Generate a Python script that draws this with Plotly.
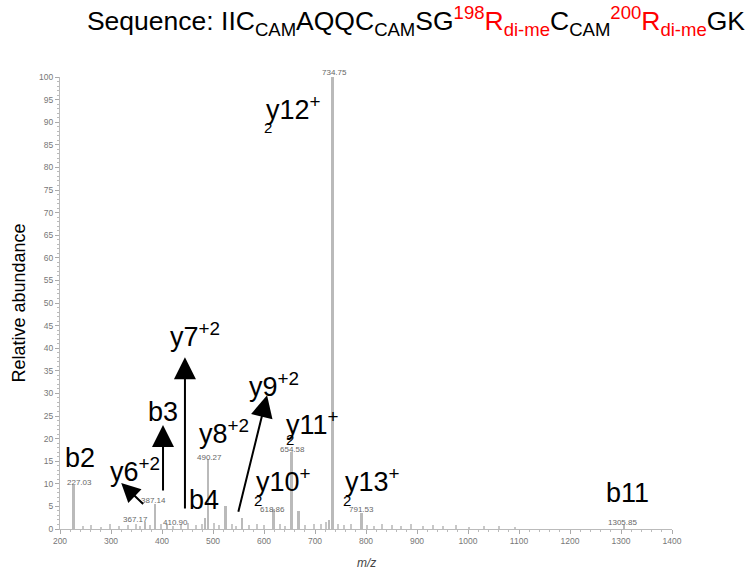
import plotly.graph_objects as go

# ---------------- data ----------------
peak_mz = [227.03, 367.17, 387.14, 410.90, 485.0, 490.27, 525.0, 557.0,
           618.86, 654.58, 668.0, 728.0, 733.5, 734.75, 791.53, 1305.85]
peak_int = [9.8, 1.5, 5.5, 1.2, 2.5, 15.5, 5.2, 2.5,
            4.5, 17.0, 4.0, 2.0, 8.0, 100.0, 3.5, 0.8]

noise_mz = [245, 262, 281, 298, 316, 333, 349, 358, 376, 398, 421, 437, 452,
            466, 478, 503, 512, 538, 546, 571, 586, 601, 632, 641, 681, 699,
            713, 722, 745, 758, 771, 802, 816, 831, 852, 868, 889, 912, 931,
            952, 977, 1003, 1031, 1061, 1092]
noise_int = [0.6, 0.9, 0.5, 1.0, 0.7, 0.8, 1.2, 0.6, 0.9, 1.1, 0.7, 1.0, 1.3,
             0.8, 1.2, 1.4, 0.9, 1.1, 0.7, 0.9, 1.2, 0.8, 1.0, 0.7, 0.9, 1.1,
             1.2, 1.5, 1.0, 0.8, 1.1, 0.9, 0.7, 1.2, 0.8, 0.6, 1.0, 0.7, 0.9,
             0.6, 0.8, 0.5, 0.7, 0.6, 0.5]

# m/z value labels (text, x position, y level)
mz_labels = ["227.03", "367.17", "387.14", "410.90", "490.27", "618.86",
             "654.58", "734.75", "791.53", "1305.85"]
mz_label_x = [239, 349, 384, 427, 494, 616, 655, 739, 792, 1302]
mz_label_y = [10.2, 2.0, 6.2, 1.5, 15.9, 4.4, 17.5, 100.0, 4.4, 1.5]
mz_label_shift = [0, 0, 0, 0, 0, 0, 0, 5, 0, 0]

# fragment ion labels
ion_text = ["b2", "y6<sup>+2</sup>", "b3", "y7<sup>+2</sup>", "b4",
            "y8<sup>+2</sup>", "y9<sup>+2</sup>", "y11<sup>+</sup>",
            "y10<sup>+</sup>", "y13<sup>+</sup>", "y12<sup>+</sup>", "b11"]
ion_x = [239, 347, 402, 465, 482, 522, 620, 696, 639, 812, 657, 1312]
ion_y = [15.7, 13.0, 25.9, 42.9, 6.4, 21.5, 31.9, 23.5, 10.8, 10.8, 93.1, 8.0]

# stray "2" characters under the y of some labels
two_x = [608, 651, 588, 763]
two_y = [88.9, 19.7, 6.4, 6.4]

# arrows: tail (x0,y0) -> head (x1,y1)
arrow_x0 = [402, 445, 549, 366]
arrow_y0 = [8.2, 4.2, 3.5, 5.2]
arrow_x1 = [402, 445, 606, 320]
arrow_y1 = [23.0, 38.0, 29.6, 10.2]
arrow_size = [2.2, 2.2, 2.2, 1.9]

x_ticks = [200, 300, 400, 500, 600, 700, 800, 900, 1000, 1100, 1200, 1300, 1400]
y_ticks = list(range(0, 101, 5))

FONT = "Liberation Sans, Arial, sans-serif"

fig = go.Figure()
fig.add_trace(go.Bar(x=noise_mz, y=noise_int, width=2.5,
                     marker=dict(color="#c8c8c8", line=dict(width=0)),
                     hoverinfo="skip"))
fig.add_trace(go.Bar(x=peak_mz, y=peak_int, width=3.5,
                     marker=dict(color="#bababa", line=dict(width=0))))

ann = []
for t, x, y, s in zip(mz_labels, mz_label_x, mz_label_y, mz_label_shift):
    ann.append(dict(x=x, y=y, text=t, showarrow=False, yanchor="middle",
                    yshift=s,
                    font=dict(family=FONT, size=8, color="#666")))
for t, x, y in zip(ion_text, ion_x, ion_y):
    ann.append(dict(x=x, y=y, text=t, showarrow=False, yanchor="middle",
                    font=dict(family=FONT, size=27, color="black")))
for x, y in zip(two_x, two_y):
    ann.append(dict(x=x, y=y, text="2", showarrow=False, yanchor="middle",
                    font=dict(family=FONT, size=15, color="black")))
for x0, y0, x1, y1, sz in zip(arrow_x0, arrow_y0, arrow_x1, arrow_y1, arrow_size):
    ann.append(dict(x=x1, y=y1, ax=x0, ay=y0, xref="x", yref="y",
                    axref="x", ayref="y", text="", showarrow=True,
                    arrowhead=2, arrowsize=sz, arrowwidth=2,
                    arrowcolor="black"))
ann.append(dict(x=0.5, xref="paper", y=-0.075, yref="paper",
                text="<i>m/z</i>", showarrow=False, yanchor="middle",
                font=dict(family=FONT, size=12, color="#444")))

title_text = ("Sequence: IIC<sub>CAM</sub>AQQC<sub>CAM</sub>SG"
              "<span style='color:red'><sup>198</sup>R<sub>di-me</sub></span>"
              "C<sub>CAM</sub>"
              "<span style='color:red'><sup>200</sup>R<sub>di-me</sub></span>GK")

fig.update_layout(
    width=747, height=570,
    margin=dict(l=60, r=75, t=77, b=41),
    paper_bgcolor="white", plot_bgcolor="white",
    showlegend=False,
    bargap=0,
    title=dict(text=title_text, x=416 / 747, xref="container", xanchor="center",
               y=1 - 21 / 570, yref="container", yanchor="middle",
               font=dict(family=FONT, size=26.5, color="black")),
    annotations=ann,
    xaxis=dict(range=[200, 1400], tickvals=x_ticks,
               ticktext=[str(v) for v in x_ticks],
               showgrid=False, zeroline=False, showline=True,
               linecolor="#bbbbbb", linewidth=1,
               ticks="outside", ticklen=4, tickcolor="#aaaaaa",
               minor=dict(dtick=20, ticks="outside", ticklen=2, tickcolor="#bbbbbb"),
               tickfont=dict(family=FONT, size=8.5, color="#777")),
    yaxis=dict(range=[0, 100], tickvals=y_ticks,
               ticktext=[str(v) for v in y_ticks],
               showgrid=False, zeroline=False, showline=True,
               linecolor="#bbbbbb", linewidth=1,
               ticks="outside", ticklen=4, tickcolor="#aaaaaa",
               minor=dict(dtick=1, ticks="outside", ticklen=2, tickcolor="#bbbbbb"),
               tickfont=dict(family=FONT, size=8.5, color="#777"),
               title=dict(text="Relative abundance", standoff=8,
                          font=dict(family=FONT, size=18, color="black"))),
)

fig.write_html("out.html")
